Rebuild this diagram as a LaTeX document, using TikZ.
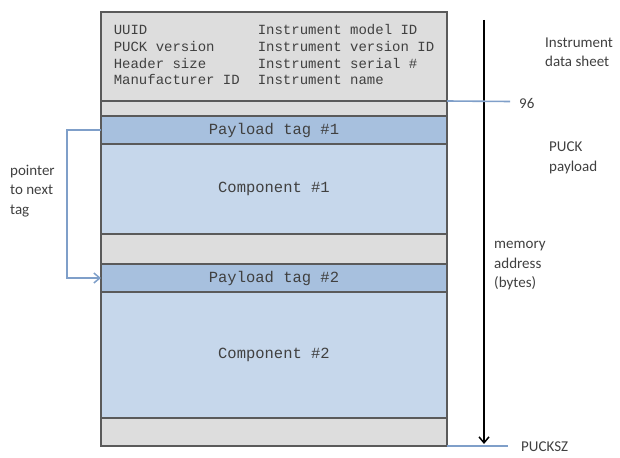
\documentclass[tikz,border=0pt]{standalone}
\usepackage{xcolor}
\usepackage{fontspec}
\setmainfont{Carlito}
\setmonofont{Liberation Mono}
\usepackage{tikz}
\usetikzlibrary{arrows.meta}
\definecolor{hdrgray}{HTML}{DDDDDD}
\definecolor{tagblue}{HTML}{A7C0DE}
\definecolor{compblue}{HTML}{C6D7EB}
\definecolor{lineblue}{HTML}{7F9FC9}
\definecolor{edgegray}{HTML}{5A5A5A}
\definecolor{txtgray}{HTML}{404040}

\begin{document}
\begin{tikzpicture}[x=1pt,y=-1pt]
\tikzstyle{band} = [draw=edgegray,line width=1.2pt,minimum width=346pt,inner sep=0pt,outer sep=0pt];
\tikzstyle{mono} = [font=\fontsize{15.5}{18}\selectfont\ttfamily,text=txtgray];
\tikzstyle{lbl} = [font=\fontsize{15}{19.5}\selectfont,text=txtgray,align=left,inner sep=0pt];
\tikzstyle{tick} = [draw=lineblue,line width=1.6pt];
\useasboundingbox (0,0) rectangle (620,457);

% memory map
\node [band,fill=hdrgray,minimum height=89pt,text=txtgray,font=\fontsize{14}{16.7}\selectfont\ttfamily] (hdr) at (274,56.5) {%
\begin{tabular}{@{}l@{\hspace{18pt}}l@{}}
UUID & Instrument model ID\\
PUCK version & Instrument version ID\\
Header size & Instrument serial \#\\
Manufacturer ID & Instrument name
\end{tabular}};
\node [band,fill=hdrgray,minimum height=15pt] (gap1) at (274,108.5) {};
\node [band,mono,fill=tagblue,minimum height=28pt] (tag1) at (274,130) {Payload tag \#1};
\node [band,mono,fill=compblue,minimum height=90pt] (comp1) at (274,189) {Component \#1};
\node [band,fill=hdrgray,minimum height=30pt] (gap2) at (274,249) {};
\node [band,mono,fill=tagblue,minimum height=28pt] (tag2) at (274,278) {Payload tag \#2};
\node [band,mono,fill=compblue,minimum height=126pt] (comp2) at (274,355) {Component \#2};
\node [band,fill=hdrgray,minimum height=28pt] (gap3) at (274,432) {};

% pointer
\draw [draw=lineblue,line width=1.5pt,-{Straight Barb[length=6pt,width=10pt]}] (tag1.west) -- ++(-34,0) |- (tag2.west);
\node [lbl,anchor=west] (ptr) at (10,191) {pointer\\to next\\tag};

% address axis
\coordinate (addrtop) at (484,20);
\coordinate (addrend) at (484,444);
\draw [line width=1.5pt,-{Straight Barb[length=6pt,width=10pt]}] (addrtop) -- (addrend);
\coordinate (mark96) at (510,101.5);
\draw [tick] (hdr.south east) -- (mark96);
\coordinate (marksz) at (508,446);
\draw [tick] (gap3.south east) -- (marksz);
\node [lbl,anchor=west] (l96) at (519,103) {96};
\node [lbl,anchor=west] (lsz) at (521,447) {PUCKSZ};
\node [lbl,anchor=west] (lsheet) at (545,52) {Instrument\\data sheet};
\node [lbl,anchor=west] (lpay) at (549,158) {PUCK\\payload};
\node [lbl,anchor=west] (laddr) at (494,266) {memory\\address\\(bytes)};

\end{tikzpicture}
\end{document}
